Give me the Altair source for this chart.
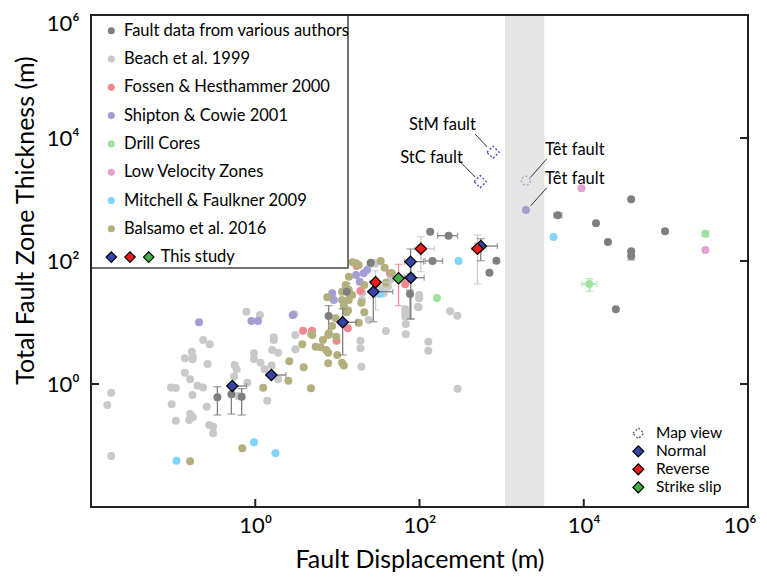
import altair as alt
import pandas as pd

W, H = 657, 492
FONT = "Lato"

# ---------------- axes ----------------
x_domain = [0.01, 1e6]
y_domain = [0.01, 1e6]
tick_values = [1, 100, 10000, 1000000]
tick_labels = ["10⁰", "10²", "10⁴", "10⁶"]
inner_ticks = [1, 100, 10000]

# shaded displacement band
band_x = [1100]
band_x2 = [3300]

# ---------------- literature data ----------------
series_names = ["Fault data from various authors", "Beach et al. 1999",
                "Fossen & Hesthammer 2000", "Shipton & Cowie 2001", "Drill Cores",
                "Low Velocity Zones", "Mitchell & Faulkner 2009", "Balsamo et al. 2016"]
series_colors = ["#7f7f7f", "#c9c9c9", "#f2878f", "#a49ed2", "#9fe29f",
                 "#e3a2d0", "#80d4ff", "#b3b07e"]

beach_x = [0.0176, 0.0158, 0.0176, 0.094, 0.108, 0.096, 0.108, 0.161, 0.174, 0.157,
           0.172, 0.198, 0.232, 0.139, 0.161, 0.139, 0.169, 0.174, 0.172, 0.232,
           0.279, 0.262, 0.257, 0.275, 0.307, 0.307, 0.561, 0.593, 0.552, 0.80,
           0.617, 1.40, 0.78, 1.14, 0.965, 0.965, 1.16, 1.61, 1.68, 1.68,
           1.90, 1.30, 1.90, 3.08, 3.08, 2.99, 1.58, 19.1, 19.1, 19.6,
           39.0, 68.2, 128, 128, 67.0, 95.3, 67.0, 236, 289, 291,
           99, 99, 97.3, 25.2, 29.0, 20.0, 20.0, 24.1, 36.5, 33.3,
           41.2, 44.1, 67.0, 68.2]
beach_y = [0.72, 0.456, 0.0675, 0.88, 0.86, 0.468, 0.253, 0.325, 0.288, 0.26,
           0.66, 0.94, 0.88, 1.53, 1.2, 2.62, 3.35, 2.78, 2.52, 5.19,
           4.42, 2.11, 0.428, 0.215, 0.202, 0.158, 2.04, 1.73, 1.32, 1.05,
           0.638, 0.535, 15.0, 13.2, 3.16, 2.55, 2.22, 3.57, 5.19, 5.74,
           3.23, 1.73, 1.19, 6.27, 3.66, 13.6, 1.99, 5.06, 3.80, 1.91,
           7.28, 6.43, 4.88, 3.47, 14.4, 18.1, 12.4, 15.2, 12.9, 0.84,
           28, 24.7, 17.7, 88.3, 91.8, 23.2, 30.5, 11.0, 29.9, 36.0,
           38.2, 49.1, 16.4, 9.46]

fossen_x = [3.82, 4.91, 9.77, 13.4, 19.1, 67.0, 17.2, 43.6]
fossen_y = [7.36, 7.36, 5.06, 8.05, 32.9, 41.8, 83, 63.1]

shipton_x = [0.207, 0.90, 1.08, 2.86, 16.9, 20.9, 23.0, 18.7, 8.65, 9.06, 1977]
shipton_y = [10.1, 10.6, 10.6, 13.2, 59.2, 63.1, 71.4, 46.0, 29.9, 23.2, 675]

balsamo_x = [0.161, 0.695, 1.25, 2.53, 2.60, 3.89, 4.77, 3.74, 4.81, 5.44,
             6.25, 7.31, 7.73, 6.67, 7.89, 9.67, 8.65, 9.94, 7.73, 11.4,
             12.0, 18.2, 21.3, 12.9, 16.9, 18.2, 33.7, 37.6, 13.8, 21.3,
             12.6, 13.8, 15.1, 11.4, 7.52, 11.4, 13.8, 12.0, 13.5, 9.50,
             4.95, 7.73, 19.6, 46.1, 39.0, 15.3]
balsamo_y = [0.0553, 0.09, 0.871, 1.13, 2.34, 1.87, 0.851, 4.42, 6.43, 4.05,
             3.95, 3.57, 3.23, 5.19, 6.67, 5.87, 8.77, 2.96, 2.17, 2.22,
             1.99, 9.93, 14.7, 14.7, 91.8, 86.1, 100, 77.8, 55.6, 40.7,
             40.7, 33.7, 28, 31.7, 25.7, 23.2, 23.2, 18.5, 15.6, 11.7,
             6.27, 6.27, 21.0, 63.1, 44.4, 95.3]

mitchell_x = [4290, 299, 0.110, 0.965, 1.76, 32.7]
mitchell_y = [245, 100, 0.0566, 0.113, 0.0746, 29.0]

lvz_x = [9380, 303000]
lvz_y = [1520, 151]

drill_x = [163, 11700, 303000]
drill_y = [25.0, 42.3, 278]

various_x = [0.346, 0.512, 0.683, 7.82, 13.0, 76.7, 135, 226, 144, 863,
             711, 4830, 14100, 37800, 19700, 37800, 37800, 97700, 24600, 25.5]
various_y = [0.608, 0.681, 0.621, 12.8, 31.7, 29.0, 299, 258, 100, 101,
             64.6, 553, 410, 1007, 204, 144, 121, 304, 16.4, 93.8]

# error bars of literature data (grey = various authors, green = drill cores)
lit_verr_x = [0.346, 0.512, 0.683, 7.82, 13.0, 76.7, 37800, 11700, 303000]
lit_verr_lo = [0.313, 0.325, 0.313, 6.67, 23.2, 11.4, 104, 32.1, 250]
lit_verr_hi = [0.904, 0.92, 0.84, 18.8, 43.5, 33.7, 140, 51.5, 308]
lit_verr_src = ["Fault data from various authors"] * 7 + ["Drill Cores"] * 2
lit_herr_y = [258, 100, 553, 42.3]
lit_herr_lo = [166, 117, 4320, 9440]
lit_herr_hi = [291, 191, 5410, 14400]
lit_herr_src = ["Fault data from various authors"] * 3 + ["Drill Cores"]

# ---------------- this study ----------------
ts_types = ["Normal", "Reverse", "Strike slip"]
ts_colors = ["#3444a8", "#ee1c1c", "#44b044"]
ts_err_colors = ["#4656c0", "#f03030", "#44b044"]
ts_type = ["Normal"] * 7 + ["Reverse"] * 3 + ["Strike slip"]
ts_x = [0.526, 1.57, 11.6, 27.4, 77.8, 78.4, 558, 29.2, 104, 508, 55.6]
ts_y = [0.927, 1.40, 10.1, 31.7, 97.5, 53.5, 175, 45.1, 158, 158, 52.3]
ts_ylo = [0.927, 1.40, 2.96, 10.3, 61.5, 11.4, 101, 16.0, 67, 42.3, 18.8]
ts_yhi = [0.927, 1.40, 16.7, 47.3, 157, 89.3, 231, 69.5, 248, 265, 88.3]
ts_xlo = [0.526, 1.57, 11.6, 27.4, 65.8, 65.8, 476, 25.2, 86.9, 427, 50.7]
ts_xhi = [0.783, 2.36, 16.9, 47.4, 112, 114, 889, 42.9, 152, 649, 67]

# map-view estimates
map_x = [787, 548]
map_y = [5850, 1950]
tet_map_x = [1977]
tet_map_y = [2020]

# annotations
ann_text = ["StM fault", "StC fault", "Têt fault", "Têt fault"]
ann_x = [190, 140, 7770, 7770]
ann_y = [16300, 4730, 6380, 2150]
lead_x = [476, 323, 3560, 3560]
lead_x2 = [667, 476, 2250, 2250]
lead_y = [11600, 3920, 4610, 1560]
lead_y2 = [7140, 2320, 2300, 784]

# ---------------- build ----------------
label_expr = " : ".join(
    f"datum.value == {v} ? '{t}'" for v, t in zip(tick_values[:-1], tick_labels[:-1])
) + f" : '{tick_labels[-1]}'"

xs = alt.Scale(type="log", domain=x_domain)
ys = alt.Scale(type="log", domain=y_domain)

x_axis = alt.Axis(values=tick_values, labelExpr=label_expr, ticks=False, domain=False,
                  grid=False, labelFont=FONT, labelFontSize=22, labelColor="black",
                  labelPadding=8, labelFlush=True, labelFlushOffset=8,
                  title="Fault Displacement (m)",
                  titleFont=FONT, titleFontSize=25, titleFontWeight="normal",
                  titleColor="black", titleY=52, titleBaseline="middle")
y_axis = alt.Axis(values=tick_values, labelExpr=label_expr, ticks=False, domain=False,
                  grid=False, labelFont=FONT, labelFontSize=22, labelColor="black",
                  labelPadding=12, labelFlush=True, labelFlushOffset=2,
                  title="Total Fault Zone Thickness (m)",
                  titleFont=FONT, titleFontSize=25, titleFontWeight="normal",
                  titleColor="black", titleX=-66, titleY=205, titleAngle=270,
                  titleAlign="center", titleBaseline="middle")


def X(f):
    return alt.X(f, type="quantitative", scale=xs, axis=x_axis)


def Y(f):
    return alt.Y(f, type="quantitative", scale=ys, axis=y_axis)


layers = []

# band
band_df = pd.DataFrame({"x": band_x, "x2": band_x2})
layers.append(alt.Chart(band_df).mark_rect(color="#e6e6e6").encode(
    x=X("x"), x2="x2", y=alt.value(0), y2=alt.value(H)))

# literature points
order = ["Beach et al. 1999", "Fossen & Hesthammer 2000", "Shipton & Cowie 2001",
         "Balsamo et al. 2016", "Mitchell & Faulkner 2009", "Low Velocity Zones",
         "Drill Cores", "Fault data from various authors"]
src = {
    "Beach et al. 1999": (beach_x, beach_y),
    "Fossen & Hesthammer 2000": (fossen_x, fossen_y),
    "Shipton & Cowie 2001": (shipton_x, shipton_y),
    "Balsamo et al. 2016": (balsamo_x, balsamo_y),
    "Mitchell & Faulkner 2009": (mitchell_x, mitchell_y),
    "Low Velocity Zones": (lvz_x, lvz_y),
    "Drill Cores": (drill_x, drill_y),
    "Fault data from various authors": (various_x, various_y),
}
rows = []
k = 0
for name in order:
    xx, yy = src[name]
    for a, b in zip(xx, yy):
        rows.append({"x": a, "y": b, "s": name, "k": k})
        k += 1
pts = pd.DataFrame(rows)
color_scale = alt.Scale(domain=series_names, range=series_colors)

# literature error bars
lv = pd.DataFrame({"x": lit_verr_x, "lo": lit_verr_lo, "hi": lit_verr_hi, "s": lit_verr_src})
lh = pd.DataFrame({"y": lit_herr_y, "lo": lit_herr_lo, "hi": lit_herr_hi, "s": lit_herr_src})
ecol = alt.Color("s:N", scale=color_scale, legend=None)
layers.append(alt.Chart(lv).mark_rule(strokeWidth=1.3).encode(x=X("x"), y=Y("lo"), y2="hi", color=ecol))
for f in ["lo", "hi"]:
    layers.append(alt.Chart(lv).mark_tick(orient="horizontal", size=8, thickness=1.3).encode(
        x=X("x"), y=Y(f), color=ecol))
layers.append(alt.Chart(lh).mark_rule(strokeWidth=1.3).encode(y=Y("y"), x=X("lo"), x2="hi", color=ecol))
for f in ["lo", "hi"]:
    layers.append(alt.Chart(lh).mark_tick(orient="vertical", size=6, thickness=1.3).encode(
        y=Y("y"), x=X(f), color=ecol))

layers.append(alt.Chart(pts).mark_point(shape="circle", filled=True, size=64, opacity=1).encode(
    x=X("x"), y=Y("y"), color=alt.Color("s:N", scale=color_scale, legend=None),
    order=alt.Order("k:Q")))

# this-study error bars and diamonds
ts = pd.DataFrame({"t": ts_type, "x": ts_x, "y": ts_y, "ylo": ts_ylo, "yhi": ts_yhi,
                   "xlo": ts_xlo, "xhi": ts_xhi})
tcol = alt.Color("t:N", scale=alt.Scale(domain=ts_types, range=ts_err_colors), legend=None)
layers.append(alt.Chart(ts).mark_rule(strokeWidth=1.3).encode(x=X("x"), y=Y("ylo"), y2="yhi", color=tcol))
for f in ["ylo", "yhi"]:
    layers.append(alt.Chart(ts).transform_filter("datum.ylo < datum.yhi").mark_tick(
        orient="horizontal", size=8, thickness=1.3).encode(x=X("x"), y=Y(f), color=tcol))
layers.append(alt.Chart(ts).mark_rule(strokeWidth=1.3).encode(y=Y("y"), x=X("xlo"), x2="xhi", color=tcol))
for f in ["xlo", "xhi"]:
    layers.append(alt.Chart(ts).mark_tick(orient="vertical", size=6, thickness=1.3).encode(
        y=Y("y"), x=X(f), color=tcol))
layers.append(alt.Chart(ts).mark_point(shape="diamond", filled=True, size=130, opacity=1,
                                       stroke="black", strokeWidth=1.2).encode(
    x=X("x"), y=Y("y"),
    fill=alt.Fill("t:N", scale=alt.Scale(domain=ts_types, range=ts_colors), legend=None)))

# map view
mv = pd.DataFrame({"x": map_x, "y": map_y})
layers.append(alt.Chart(mv).mark_point(shape="diamond", filled=False, size=150, color="#3a4ad0",
                                       strokeWidth=1.3, strokeDash=[2, 2], opacity=1).encode(
    x=X("x"), y=Y("y")))
tm = pd.DataFrame({"x": tet_map_x, "y": tet_map_y})
layers.append(alt.Chart(tm).mark_point(shape="circle", filled=False, size=80, color="#a49ed2",
                                       strokeWidth=1.3, strokeDash=[2, 2], opacity=1).encode(
    x=X("x"), y=Y("y")))

# annotations
ld = pd.DataFrame({"x": lead_x, "x2": lead_x2, "y": lead_y, "y2": lead_y2})
layers.append(alt.Chart(ld).mark_rule(color="#333", strokeWidth=1).encode(
    x=X("x"), x2="x2", y=Y("y"), y2="y2"))
ad = pd.DataFrame({"t": ann_text, "x": ann_x, "y": ann_y})
layers.append(alt.Chart(ad).mark_text(font=FONT, fontSize=16.5, color="black").encode(
    x=X("x"), y=Y("y"), text="t:N"))

# inner ticks
tk = pd.DataFrame({"v": inner_ticks})
layers.append(alt.Chart(tk).mark_rule(color="#222", strokeWidth=2).encode(
    x=X("v"), y=alt.value(H), y2=alt.value(H - 8)))
layers.append(alt.Chart(tk).mark_rule(color="#222", strokeWidth=2).encode(
    y=Y("v"), x=alt.value(0), x2=alt.value(8)))
layers.append(alt.Chart(tk).mark_rule(color="#222", strokeWidth=2).encode(
    y=Y("v"), x=alt.value(W), x2=alt.value(W - 8)))

# ---------------- legends ----------------
one = pd.DataFrame({"a": [0]})
layers.append(alt.Chart(one).mark_rect(fill="white", stroke="#444", strokeWidth=1.5).encode(
    x=alt.value(0), x2=alt.value(257), y=alt.value(0), y2=alt.value(253)))
row0, dy = 15.7, 28.3
for i, (name, c) in enumerate(zip(series_names, series_colors)):
    yy = row0 + dy * i
    layers.append(alt.Chart(one).mark_point(shape="circle", filled=True, size=50, color=c,
                                            opacity=1).encode(x=alt.value(20.3), y=alt.value(yy)))
    layers.append(alt.Chart(pd.DataFrame({"t": [name]})).mark_text(
        font=FONT, fontSize=16.5, align="left", baseline="middle", color="black").encode(
        x=alt.value(33), y=alt.value(yy), text="t:N"))
yy = row0 + dy * len(series_names)
for j, c in enumerate(ts_colors):
    layers.append(alt.Chart(one).mark_point(shape="diamond", filled=True, size=110, fill=c,
                                            stroke="black", strokeWidth=1.2, opacity=1).encode(
        x=alt.value(20.3 + 18.7 * j), y=alt.value(yy)))
layers.append(alt.Chart(pd.DataFrame({"t": ["This study"]})).mark_text(
    font=FONT, fontSize=16.5, align="left", baseline="middle", color="black").encode(
    x=alt.value(69.7), y=alt.value(yy), text="t:N"))

leg2 = ["Map view"] + ts_types
leg2_fill = [None] + ts_colors
for i, (name, c) in enumerate(zip(leg2, leg2_fill)):
    yy = 418.3 + 18 * i
    if c is None:
        mk = alt.Chart(one).mark_point(shape="diamond", filled=False, size=120, color="#555",
                                       strokeWidth=1.2, strokeDash=[2, 2], opacity=1)
    else:
        mk = alt.Chart(one).mark_point(shape="diamond", filled=True, size=120, fill=c,
                                       stroke="black", strokeWidth=1.2, opacity=1)
    layers.append(mk.encode(x=alt.value(547.3), y=alt.value(yy)))
    layers.append(alt.Chart(pd.DataFrame({"t": [name]})).mark_text(
        font=FONT, fontSize=15.5, align="left", baseline="middle", color="black").encode(
        x=alt.value(565), y=alt.value(yy), text="t:N"))

# plot frame
layers.append(alt.Chart(one).mark_rect(fillOpacity=0, stroke="#222", strokeWidth=2).encode(
    x=alt.value(0), x2=alt.value(W), y=alt.value(0), y2=alt.value(H)))

chart = alt.layer(*layers).properties(
    width=W, height=H, autosize="none",
    padding={"left": 83, "top": 7, "right": 11, "bottom": 65},
).configure_view(strokeWidth=0).configure(background="white")

chart.save("out.html", embed_options={"renderer": "svg", "actions": False})
